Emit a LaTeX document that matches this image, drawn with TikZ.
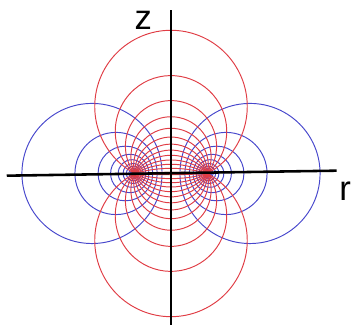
\documentclass[tikz,border=0pt]{standalone}
\usepackage{fontspec}
\setsansfont{Liberation Sans}
\usetikzlibrary{calc}
\definecolor{SigmaClr}{rgb}{0.88,0.24,0.27}
\definecolor{TauClr}{rgb}{0.28,0.28,0.8}
\definecolor{AxisClr}{rgb}{0,0,0}

\begin{document}
\begin{tikzpicture}[
  SigmaLine/.style={line width=.75pt,color=SigmaClr},
  TauLine/.style={line width=.75pt,color=TauClr},
  AxisLine/.style={line width=2pt,color=AxisClr},
  AxisLabel/.style={font=\fontsize{27}{27}\selectfont\sffamily,inner sep=0pt}]
\useasboundingbox (-4.685,-4.205) rectangle (5.014,4.753);

% Εστίες και άκρα των αξόνων.
\coordinate (F1) at (-1,0);
\coordinate (F2) at (1,0);
\coordinate (RL) at (-4.5,-0.06);
\coordinate (RR) at (4.54,0.077);
\coordinate (ZB) at (0,-4.15);
\coordinate (ZT) at (0,4.48);

% Κύκλοι tau = σταθ. (μπλε).
\foreach \k in {0,...,9}{
  \pgfmathsetmacro\t{0.5+0.3*\k}
  \draw[TauLine] ({1/tanh(\t)},0) circle ({1/sinh(\t)});
  \draw[TauLine] ({-1/tanh(\t)},0) circle ({1/sinh(\t)});
}

% Τόξα sigma = σταθ. (κόκκινα), από εστία σε εστία.
\foreach \k in {0,...,12}{
  \pgfmathsetmacro\s{28.6+12.3*\k}
  \draw[SigmaLine] (F2) arc[start angle=\s-90, end angle=270-\s, radius={1/sin(\s)}];
  \draw[SigmaLine] (F2) arc[start angle=90-\s, end angle=\s-270, radius={1/sin(\s)}];
}

% Άξονες.
\draw[AxisLine] (RL) -- (RR);
\draw[AxisLine] (ZB) -- (ZT);

% Ονόματα αξόνων.
\node[AxisLabel] (zname) at (-0.76,4.2) {z};
\node[AxisLabel] (rname) at (4.77,-0.48) {r};

\end{tikzpicture}
\end{document}
